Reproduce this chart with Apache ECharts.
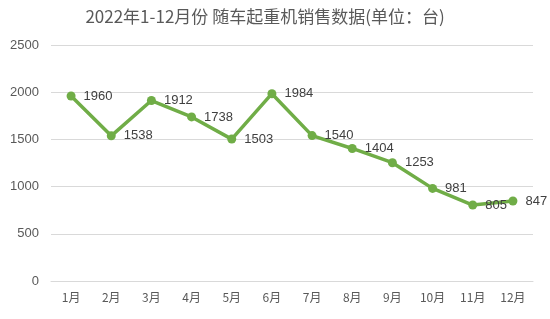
<!DOCTYPE html>
<html><head><meta charset="utf-8">
<script src="https://cdn.jsdelivr.net/npm/echarts@6/dist/echarts.min.js"></script>
<style>html,body{margin:0;padding:0;background:#fff}#c{width:550px;height:319px}</style>
</head><body><div id="c"></div>
<script>
var titleText = '2022年1-12月份 随车起重机销售数据(单位：台)';
var categories = ['1月','2月','3月','4月','5月','6月','7月','8月','9月','10月','11月','12月'];
var sales = [1960,1538,1912,1738,1503,1984,1540,1404,1253,981,805,847];
var yTicks = [0,500,1000,1500,2000,2500];

var chart = echarts.init(document.getElementById('c'));
chart.setOption({
  animation:false,
  backgroundColor:'#fff',
  title:{text:titleText,left:260,textAlign:'center',top:3,
    textStyle:{fontFamily:'Noto Sans CJK SC',fontSize:17,fontWeight:'normal',color:'#595959'}},
  grid:{left:51,right:17,top:45,bottom:38},
  xAxis:{type:'category',data:categories,boundaryGap:true,
    axisLine:{lineStyle:{color:'#d9d9d9'}},axisTick:{show:false},
    axisLabel:{color:'#595959',fontSize:12,fontFamily:'Noto Sans CJK SC',margin:10}},
  yAxis:{type:'value',min:yTicks[0],max:yTicks[yTicks.length-1],interval:500,
    axisLine:{show:false},axisTick:{show:false},
    axisLabel:{color:'#595959',fontSize:13,fontFamily:'Liberation Sans, sans-serif',margin:12,
      formatter:function(v){return String(v);}},
    splitLine:{lineStyle:{color:'#d9d9d9'}}},
  series:[{type:'line',data:sales,
    lineStyle:{color:'#70AD47',width:3.5},
    itemStyle:{color:'#70AD47'},
    symbol:'circle',symbolSize:9,
    label:{show:true,position:'right',distance:8,color:'#404040',fontSize:13,
      fontFamily:'Liberation Sans, sans-serif'}}]
});
</script></body></html>
